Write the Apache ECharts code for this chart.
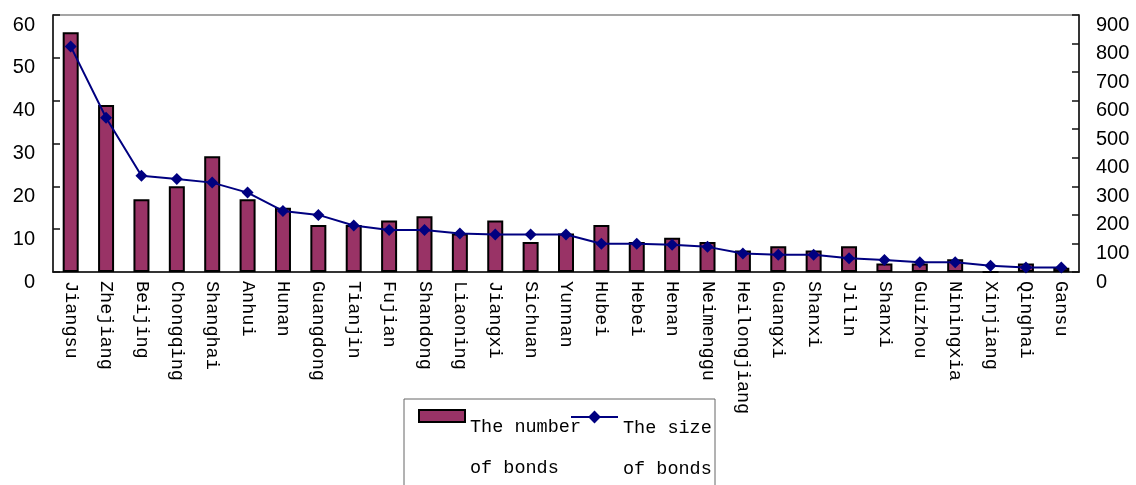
<!DOCTYPE html>
<html>
<head>
<meta charset="utf-8">
<title>bonds by province</title>
<script src="https://cdn.jsdelivr.net/npm/echarts@6/dist/echarts.min.js"></script>
<style>
    html, body { margin: 0; padding: 0; background: #fff; }
    #bondChart { width: 1136px; height: 485px; }
</style>
</head>
<body>
<div id="bondChart"></div>
<script>
// 省份
const provinces = ['Jiangsu', 'Zhejiang', 'Beijing', 'Chongqing', 'Shanghai', 'Anhui', 'Hunan', 'Guangdong',
    'Tianjin', 'Fujian', 'Shandong', 'Liaoning', 'Jiangxi', 'Sichuan', 'Yunnan', 'Hubei', 'Hebei', 'Henan',
    'Neimenggu', 'Heilongjiang', 'Guangxi', 'Shanxi', 'Jilin', 'Shanxi', 'Guizhou', 'Niningxia', 'Xinjiang',
    'Qinghai', 'Gansu'];
// 债券数量 (左轴)
const bondNumber = [56, 39, 17, 20, 27, 17, 15, 11, 11, 12, 13, 9, 12, 7, 9, 11, 7, 8, 7, 5, 6, 5, 6, 2, 2, 3, 0, 2, 1];
// 债券规模 (右轴)
const bondSize = [790, 540, 337, 326, 313, 278, 214, 200, 163, 147, 147, 135, 131, 131, 131, 99, 99, 95, 88, 65,
    60, 60, 48, 42, 34, 34, 22, 16, 16];
// 刻度
const leftTicks = [0, 60, 10];
const rightTicks = [0, 900, 100];
const seriesNames = ['The number of bonds', 'The size of bonds'];

window.onload = function() {
    let chart = echarts.init(document.getElementById('bondChart'));
    drawChart(chart);
};

function legendText(first) {
    // 空的第一行把两行文字压到图标下方
    return '{p| }\n{t|' + first + '}\n{t|of bonds}';
}

function drawChart(chart) {
    const monoFont = 'Liberation Mono';
    const legendRich = {
        p: { lineHeight: 63, fontSize: 10 },
        t: { lineHeight: 41, fontSize: 18.5, fontFamily: monoFont, color: '#000' }
    };
    let yAxisCommon = {
        type: 'value',
        splitLine: { show: false },
        axisLine: { show: true, lineStyle: { color: '#111', width: 1.5 } },
        axisTick: { show: true, inside: true, length: 7, lineStyle: { color: '#111', width: 1.5 } },
        axisLabel: {
            fontFamily: 'Liberation Sans',
            fontSize: 20,
            color: '#000',
            verticalAlign: 'top'
        }
    };
    let option = {
        animation: false,
        grid: {
            left: 53, right: 57, top: 15, bottom: 213,
            show: true, borderColor: '#888', borderWidth: 1.5
        },
        graphic: [{
            type: 'rect',
            shape: { x: 404, y: 399, width: 311, height: 120 },
            style: { fill: 'none', stroke: '#666', lineWidth: 1 },
            silent: true
        }],
        legend: [{
            data: [seriesNames[0]],
            left: 418, top: 370,
            padding: 0,
            icon: 'rect',
            itemWidth: 46, itemHeight: 12,
            formatter: function() { return legendText('The number'); },
            textStyle: { rich: legendRich }
        }, {
            data: [seriesNames[1]],
            left: 570, top: 371,
            padding: 0,
            itemWidth: 47, itemHeight: 16,
            formatter: function() { return legendText('The size'); },
            textStyle: { rich: legendRich }
        }],
        xAxis: {
            type: 'category',
            data: provinces,
            axisLine: { lineStyle: { color: '#111', width: 1.5 } },
            axisTick: { inside: true, length: 7, lineStyle: { color: '#111' } },
            axisLabel: {
                interval: 0,
                rotate: -90,
                margin: 9,
                fontFamily: monoFont,
                fontSize: 18.5,
                color: '#000'
            }
        },
        yAxis: [
            Object.assign({}, yAxisCommon, {
                position: 'left',
                min: leftTicks[0], max: leftTicks[1], interval: leftTicks[2],
                axisLabel: Object.assign({}, yAxisCommon.axisLabel, { margin: 18 })
            }),
            Object.assign({}, yAxisCommon, {
                position: 'right',
                min: rightTicks[0], max: rightTicks[1], interval: rightTicks[2],
                axisLabel: Object.assign({}, yAxisCommon.axisLabel, { margin: 17 })
            })
        ],
        series: [{
            name: seriesNames[0],
            type: 'bar',
            yAxisIndex: 0,
            barWidth: 16,
            data: bondNumber,
            itemStyle: { color: '#993366', borderColor: '#000', borderWidth: 2 }
        }, {
            name: seriesNames[1],
            type: 'line',
            yAxisIndex: 1,
            data: bondSize,
            symbol: 'diamond',
            symbolSize: 12,
            lineStyle: { color: '#000080', width: 2 },
            itemStyle: { color: '#000080' }
        }]
    };
    chart.setOption(option);
}
</script>
</body>
</html>
